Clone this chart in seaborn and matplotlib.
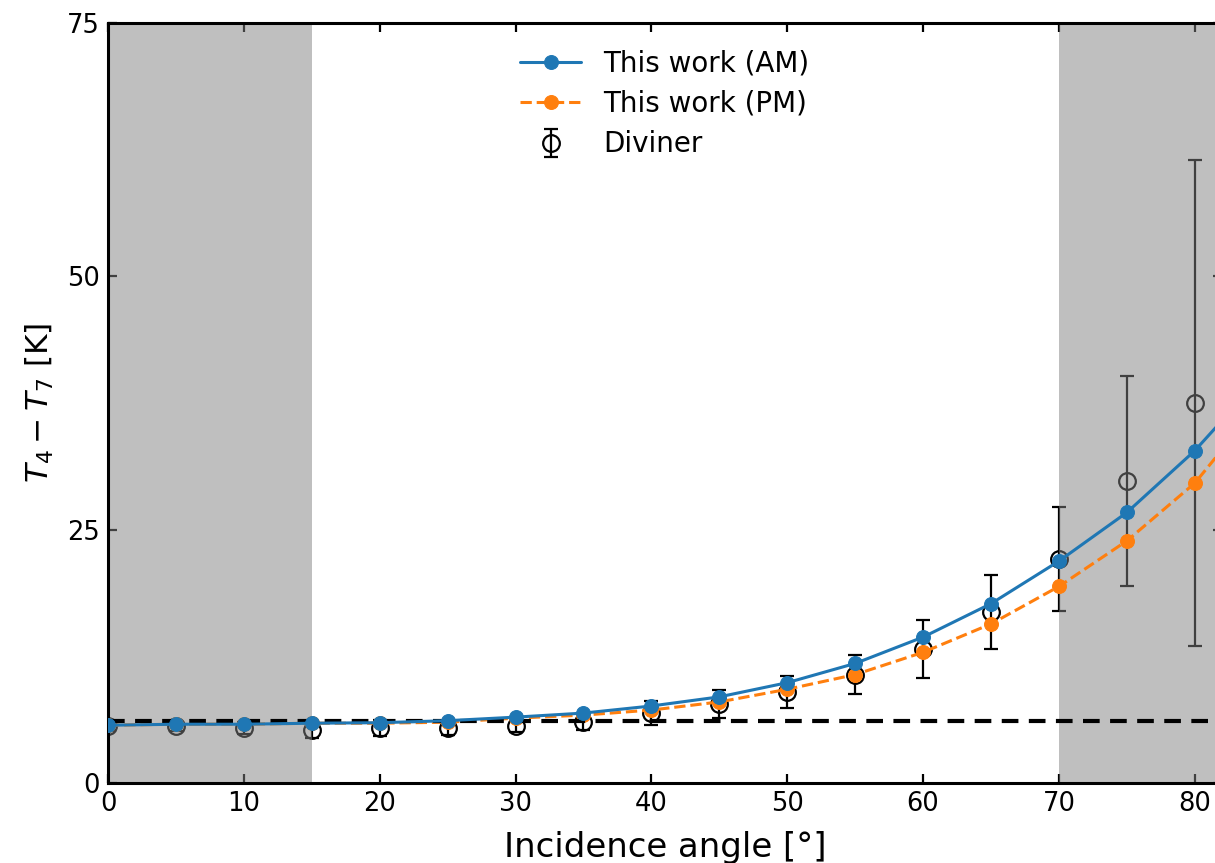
import numpy as np
import pandas as pd
import matplotlib
matplotlib.use("Agg")
import matplotlib.pyplot as plt
import seaborn as sns

# Incidence angles [deg]
angles = [0, 5, 10, 15, 20, 25, 30, 35, 40, 45, 50, 55, 60, 65, 70, 75, 80, 85]
# Model T4 - T7 [K], morning and afternoon
am_values = [5.7, 5.8, 5.8, 5.9, 5.95, 6.15, 6.5, 6.9, 7.6, 8.5, 9.9, 11.8, 14.4, 17.7, 21.9, 26.7, 32.8, 40.2]
pm_values = [5.7, 5.8, 5.8, 5.9, 5.9, 6.0, 6.4, 6.7, 7.2, 8.0, 9.25, 10.7, 12.9, 15.7, 19.4, 23.9, 29.6, 37.8]

# Diviner observations with 1-sigma spread
div_angles = [0, 5, 10, 15, 20, 25, 30, 35, 40, 45, 50, 55, 60, 65, 70, 75, 80]
div_values = [5.6, 5.6, 5.4, 5.2, 5.4, 5.4, 5.6, 6.05, 6.9, 7.8, 9.0, 10.7, 13.2, 16.9, 22.1, 29.8, 37.5]
div_errors = [0.5, 0.5, 0.6, 0.8, 0.8, 0.7, 0.6, 0.8, 1.2, 1.35, 1.6, 1.95, 2.85, 3.65, 5.1, 10.4, 24.0]

reference_level = 6.1
shaded_ranges = [(0, 15), (70, 90)]

yticks = [0, 25, 50, 75]
xticks = [0, 10, 20, 30, 40, 50, 60, 70, 80]

sns.set_style("ticks")
plt.rcParams["font.family"] = ["DejaVu Sans"]
plt.rcParams["mathtext.fontset"] = "dejavusans"
plt.rcParams["text.color"] = "black"
plt.rcParams["axes.labelcolor"] = "black"
plt.rcParams["xtick.color"] = "black"
plt.rcParams["ytick.color"] = "black"
plt.rcParams["axes.edgecolor"] = "black"

fig = plt.figure(figsize=(12.15, 8.63), dpi=100)
ax = fig.add_axes([108 / 1215, 80 / 863, 1114 / 1215, 760 / 863])

blue = "#1f77b4"
orange = "#ff7f0e"

model = pd.DataFrame({"angle": angles, "AM": am_values, "PM": pm_values})

ax.errorbar(div_angles, div_values, yerr=div_errors, fmt="o", mfc="none",
            mec="k", ecolor="k", color="k", ms=12, mew=1.6, elinewidth=1.6,
            capsize=5, capthick=1.6, label="Diviner", zorder=1)

for lo, hi in shaded_ranges:
    ax.axvspan(lo, hi, color="gray", alpha=0.5, lw=0, zorder=2)

sns.lineplot(data=model, x="angle", y="AM", ax=ax, color=blue, marker="o",
             markersize=10, markeredgecolor=blue, linewidth=2.2,
             label="This work (AM)", zorder=4)
sns.lineplot(data=model, x="angle", y="PM", ax=ax, color=orange, marker="o",
             markersize=10, markeredgecolor=orange, linewidth=2.2,
             linestyle="--", label="This work (PM)", zorder=3)

ax.axhline(reference_level, color="k", linestyle="--", linewidth=3,
           dashes=(4, 2.5), zorder=3.5)

ax.set_xlim(0, 82)
ax.set_ylim(0, 75)
ax.set_xticks(xticks)
ax.set_yticks(yticks)
ax.tick_params(direction="in", top=True, right=True, length=6.5, width=1.6,
               labelsize=18.5, pad=6)
for s in ax.spines.values():
    s.set_linewidth(2.2)
    s.set_color("black")

ax.set_xlabel("Incidence angle [°]", fontsize=24.5, labelpad=10)
ax.set_ylabel(r"$T_4 - T_7$ [K]", fontsize=22.5, labelpad=8)

handles, labels = ax.get_legend_handles_labels()
order = [labels.index(n) for n in ["This work (AM)", "This work (PM)", "Diviner"]]
ax.legend([handles[i] for i in order], [labels[i] for i in order],
          loc="upper center", bbox_to_anchor=(0.5, 1.0), frameon=False,
          fontsize=20, handlelength=2.2, labelspacing=0.45,
          borderaxespad=0.55)

fig.savefig("out.png", dpi=100)
